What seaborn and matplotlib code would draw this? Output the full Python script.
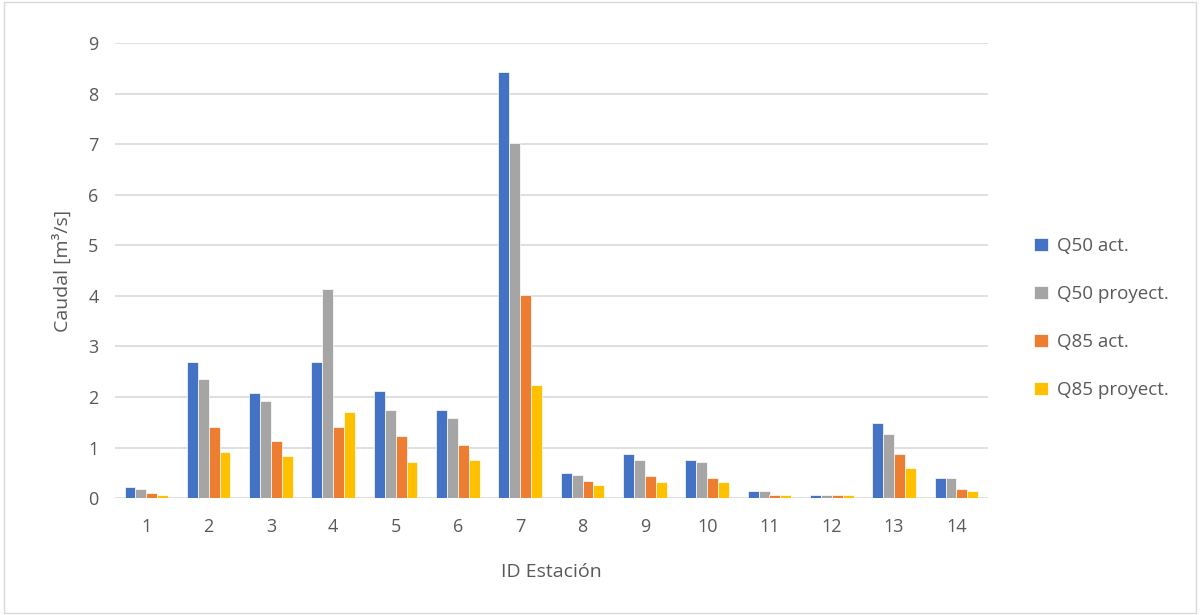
import pandas as pd
import matplotlib
matplotlib.use("Agg")
import matplotlib.pyplot as plt
import seaborn as sns

# Station ids and discharge values (m3/s)
estaciones = list(range(1, 15))
q50_act = [0.22, 2.69, 2.08, 2.69, 2.12, 1.74, 8.43, 0.50, 0.88, 0.76, 0.14, 0.06, 1.49, 0.39]
q50_proy = [0.18, 2.36, 1.92, 4.13, 1.75, 1.58, 7.03, 0.46, 0.76, 0.72, 0.14, 0.06, 1.26, 0.39]
q85_act = [0.10, 1.41, 1.13, 1.41, 1.22, 1.05, 4.02, 0.34, 0.43, 0.39, 0.06, 0.06, 0.88, 0.18]
q85_proy = [0.06, 0.92, 0.84, 1.70, 0.72, 0.76, 2.24, 0.26, 0.31, 0.31, 0.06, 0.06, 0.59, 0.14]
series = ["Q50 act.", "Q50 proyect.", "Q85 act.", "Q85 proyect."]
colores = ["#4472C4", "#A5A5A5", "#ED7D31", "#FFC000"]

df = pd.DataFrame({"ID": estaciones, series[0]: q50_act, series[1]: q50_proy,
                   series[2]: q85_act, series[3]: q85_proy})
df = df.melt(id_vars="ID", var_name="Serie", value_name="Caudal")

sns.set_style("white")
plt.rcParams["font.family"] = ["Open Sans", "DejaVu Sans"]
txt = "#595959"

fig = plt.figure(figsize=(12, 6.15), dpi=100)
ax = fig.add_axes([0.096, 0.19, 0.727, 0.74])
sns.barplot(data=df, x="ID", y="Caudal", hue="Serie", hue_order=series,
            palette=colores, width=0.7, ax=ax, saturation=1, legend=True,
            edgecolor="white", linewidth=0.5)

ax.set_ylim(0, 9)
ax.set_yticks(range(0, 10))
ax.yaxis.grid(True, color="#D9D9D9", linewidth=1.2)
ax.set_axisbelow(True)
for s in ax.spines.values():
    s.set_visible(False)
ax.tick_params(axis="x", length=0, labelsize=13, colors=txt, pad=14)
ax.tick_params(axis="y", length=0, labelsize=13, colors=txt, pad=12)
ax.set_xlabel("ID Estación", fontsize=14, color=txt, labelpad=20)
ax.set_ylabel("Caudal [m³/s]", fontsize=14, color=txt, labelpad=12)

h, l = ax.get_legend_handles_labels()
ax.get_legend().remove()
fig.legend(h, l, loc="center left", bbox_to_anchor=(0.848, 0.483), frameon=False,
           fontsize=13.5, labelcolor=txt, handlelength=0.7, handleheight=0.7,
           labelspacing=1.6, handletextpad=0.5)

# light chart border
fig.patches.append(plt.Rectangle((0.003, 0.003), 0.994, 0.994, transform=fig.transFigure,
                                 fill=False, edgecolor="#D9D9D9", linewidth=1))

fig.savefig("out.png", dpi=100)
